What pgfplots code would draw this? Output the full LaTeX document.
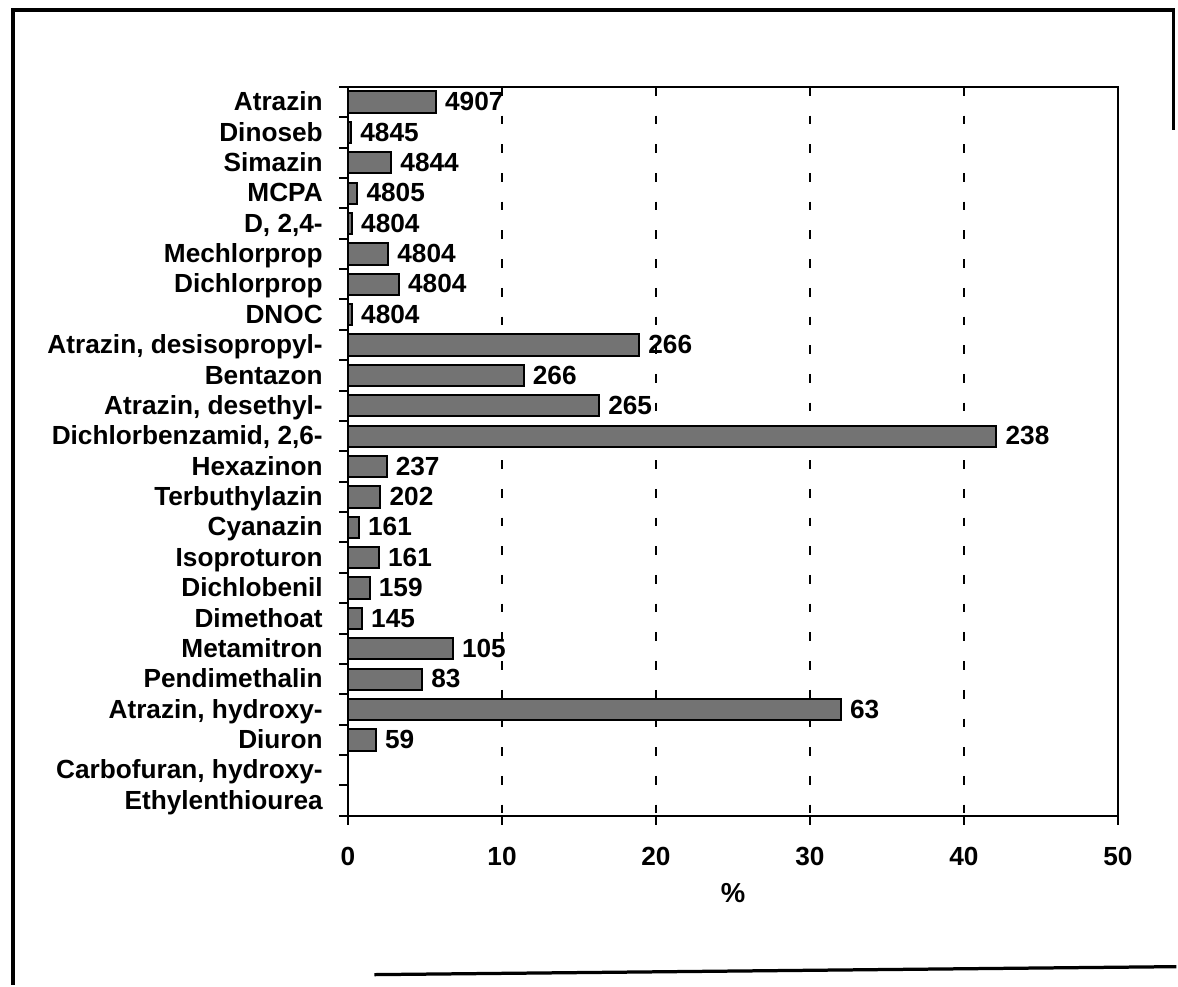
\documentclass[border=0pt]{standalone}
\usepackage{fontspec}
\setmainfont{Liberation Sans}
\usepackage{pgfplots}
\pgfplotsset{compat=1.18}

\begin{document}
\begin{tikzpicture}
% page = 1178 x 986 px, 1 px = 0.4pt
\path (0,0) rectangle (471.2pt,394.4pt);
% outer frame of the scanned page
\draw[line width=1.3pt] (5.2pt,0pt) -- (5.2pt,390.4pt) -- (470pt,390.4pt) -- (470pt,342.4pt);
\draw[line width=1.3pt] (150pt,4pt) -- (471.2pt,7.2pt);

\begin{axis}[
    at={(139.4pt,67.6pt)}, anchor=south west,
    scale only axis,
    width=308.4pt, height=292pt,
    xbar, bar width=0.7,
    xmin=0, xmax=50,
    ymin=-0.5, ymax=23.5,
    y dir=reverse,
    xtick={0,10,...,50},
    ytick={-0.5,0.5,...,23.5},
    y tick label as interval,
    yticklabels={Atrazin, Dinoseb, Simazin, MCPA, {D, 2,4-}, Mechlorprop,
        Dichlorprop, DNOC, {Atrazin, desisopropyl-}, Bentazon,
        {Atrazin, desethyl-}, {Dichlorbenzamid, 2,6-}, Hexazinon,
        Terbuthylazin, Cyanazin, Isoproturon, Dichlobenil, Dimethoat,
        Metamitron, Pendimethalin, {Atrazin, hydroxy-}, Diuron,
        {Carbofuran, hydroxy-}, Ethylenthiourea},
    xtick pos=bottom, ytick pos=left,
    tick align=outside,
    major tick length=3.6pt,
    axis line style={line width=0.8pt},
    tick style={line width=0.8pt, black},
    xmajorgrids=true,
    grid style={black, line width=0.9pt, dash pattern=on 3.5pt off 8pt},
    /pgf/number format/assume math mode=true,
    every tick label/.append style={font=\bfseries\fontsize{10.5}{12}\selectfont},
    yticklabel style={xshift=-3pt, text height=1.6ex, text depth=0.3ex},
    xticklabel style={yshift=-5.5pt},
    xlabel={\%},
    xlabel style={font=\bfseries\fontsize{11}{12}\selectfont},
    point meta=explicit symbolic,
    nodes near coords={\pgfplotspointmeta},
    nodes near coords style={font=\bfseries\fontsize{10.5}{12}\selectfont, black,
        anchor=west, text height=1.6ex, text depth=0.3ex},
]
\addplot[fill=black!55, draw=black, line width=0.8pt] coordinates {
    (5.7,0) [4907]
    (0.2,1) [4845]
    (2.8,2) [4844]
    (0.6,3) [4805]
    (0.25,4) [4804]
    (2.6,5) [4804]
    (3.3,6) [4804]
    (0.25,7) [4804]
    (18.9,8) [266]
    (11.4,9) [266]
    (16.3,10) [265]
    (42.1,11) [238]
    (2.5,12) [237]
    (2.1,13) [202]
    (0.7,14) [161]
    (2.0,15) [161]
    (1.4,16) [159]
    (0.9,17) [145]
    (6.8,18) [105]
    (4.8,19) [83]
    (32.0,20) [63]
    (1.8,21) [59]
};
\end{axis}
\end{tikzpicture}
\end{document}
